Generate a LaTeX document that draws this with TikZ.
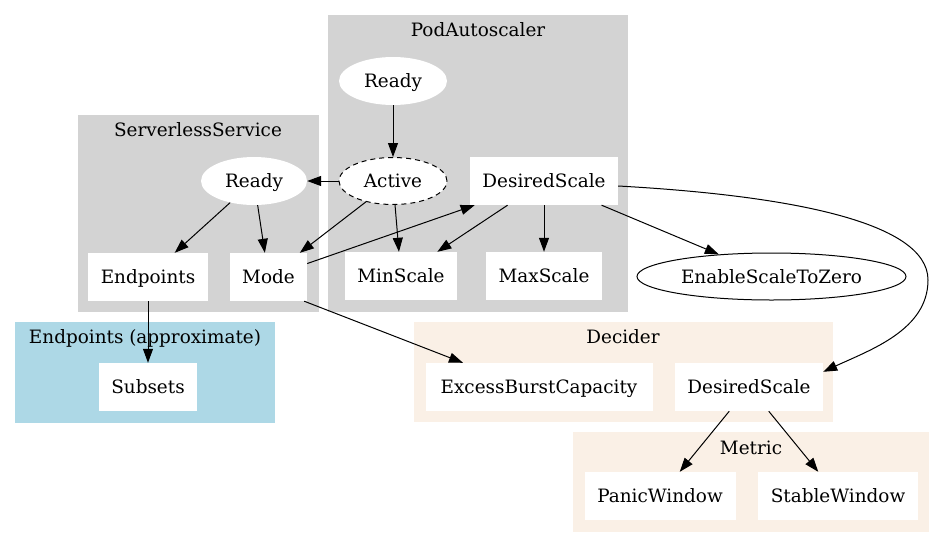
\documentclass[tikz,border=0pt]{standalone}
\usepackage{fontspec}
\setmainfont{DejaVu Serif}
\usetikzlibrary{arrows.meta,shapes.geometric}
\definecolor{clgray}{HTML}{D3D3D3}
\definecolor{clblue}{HTML}{ADD8E6}
\definecolor{cllinen}{HTML}{FAF0E6}
\begin{document}
\begin{tikzpicture}[x=1pt,y=-1pt,
  every node/.style={font=\fontsize{18.4}{22}\selectfont, inner sep=0pt, text height=13pt, text depth=0pt},
  box/.style={rectangle, fill=white, minimum height=48pt},
  oval/.style={ellipse, fill=white, minimum height=48pt},
  title/.style={anchor=base},
  edge/.style={draw=black, line width=1pt, -{Triangle[length=14pt,width=10pt]}},
]
\useasboundingbox (0,0) rectangle (945,549);
% clusters
\fill[clgray] (328,15) rectangle (628,312);
\fill[clgray] (78,115) rectangle (319,312);
\fill[clblue] (15,322) rectangle (275,423);
\fill[cllinen] (414,322) rectangle (833,422);
\fill[cllinen] (573,432) rectangle (929,532);
\node[title] (tpa) at (478,36) {PodAutoscaler};
\node[title] (tss) at (198,136) {ServerlessService};
\node[title] (tep) at (145,343) {Endpoints (approximate)};
\node[title] (tde) at (623,343) {Decider};
\node[title] (tme) at (751,454) {Metric};
% nodes
\node[oval, minimum width=108pt] (paready) at (393,81) {Ready};
\node[oval, minimum width=108pt, minimum height=47pt, draw=black, line width=1pt, dash pattern=on 5pt off 4pt] (active) at (393,181) {Active};
\node[box, minimum width=148pt] (ds) at (544,181) {DesiredScale};
\node[box, minimum width=112pt] (minscale) at (401,276) {MinScale};
\node[box, minimum width=116pt] (maxscale) at (544,276) {MaxScale};
\node[oval, minimum width=106pt] (ssready) at (254,181) {Ready};
\node[box, minimum width=120pt] (endpoints) at (148,277) {Endpoints};
\node[box, minimum width=77pt] (mode) at (268.5,277) {Mode};
\node[box, minimum width=98pt] (subsets) at (148,387) {Subsets};
\node[ellipse, draw=black, line width=1pt, minimum width=269pt, minimum height=47pt] (estz) at (771.5,276.5) {EnableScaleToZero};
\node[box, minimum width=227pt] (ebc) at (539,387) {ExcessBurstCapacity};
\node[box, minimum width=148pt] (dds) at (749,387) {DesiredScale};
\node[box, minimum width=151pt] (pw) at (660,496) {PanicWindow};
\node[box, minimum width=160pt] (sw) at (838,496) {StableWindow};
% edges
\draw[edge] (paready) -- (active);
\draw[edge] (active) -- (ssready);
\draw[edge] (active) -- (mode);
\draw[edge] (active) -- (minscale);
\draw[edge] (ssready) -- (endpoints);
\draw[edge] (ssready) -- (mode);
\draw[edge] (mode) -- (ds);
\draw[edge] (ds) -- (minscale);
\draw[edge] (ds) -- (maxscale);
\draw[edge] (ds) -- (estz);
\draw[edge] ([yshift=-5pt]ds.east) .. controls (780,195) and (928,220) .. (928,280) .. controls (928,330) and (870,350) .. ([yshift=-9pt]dds.north east);
\draw[edge] ([xshift=-3pt]mode.south east) -- ([xshift=-76pt]ebc.north);
\draw[edge] (endpoints) -- (subsets);
\draw[edge] (dds) -- (pw);
\draw[edge] (dds) -- (sw);
\end{tikzpicture}
\end{document}
